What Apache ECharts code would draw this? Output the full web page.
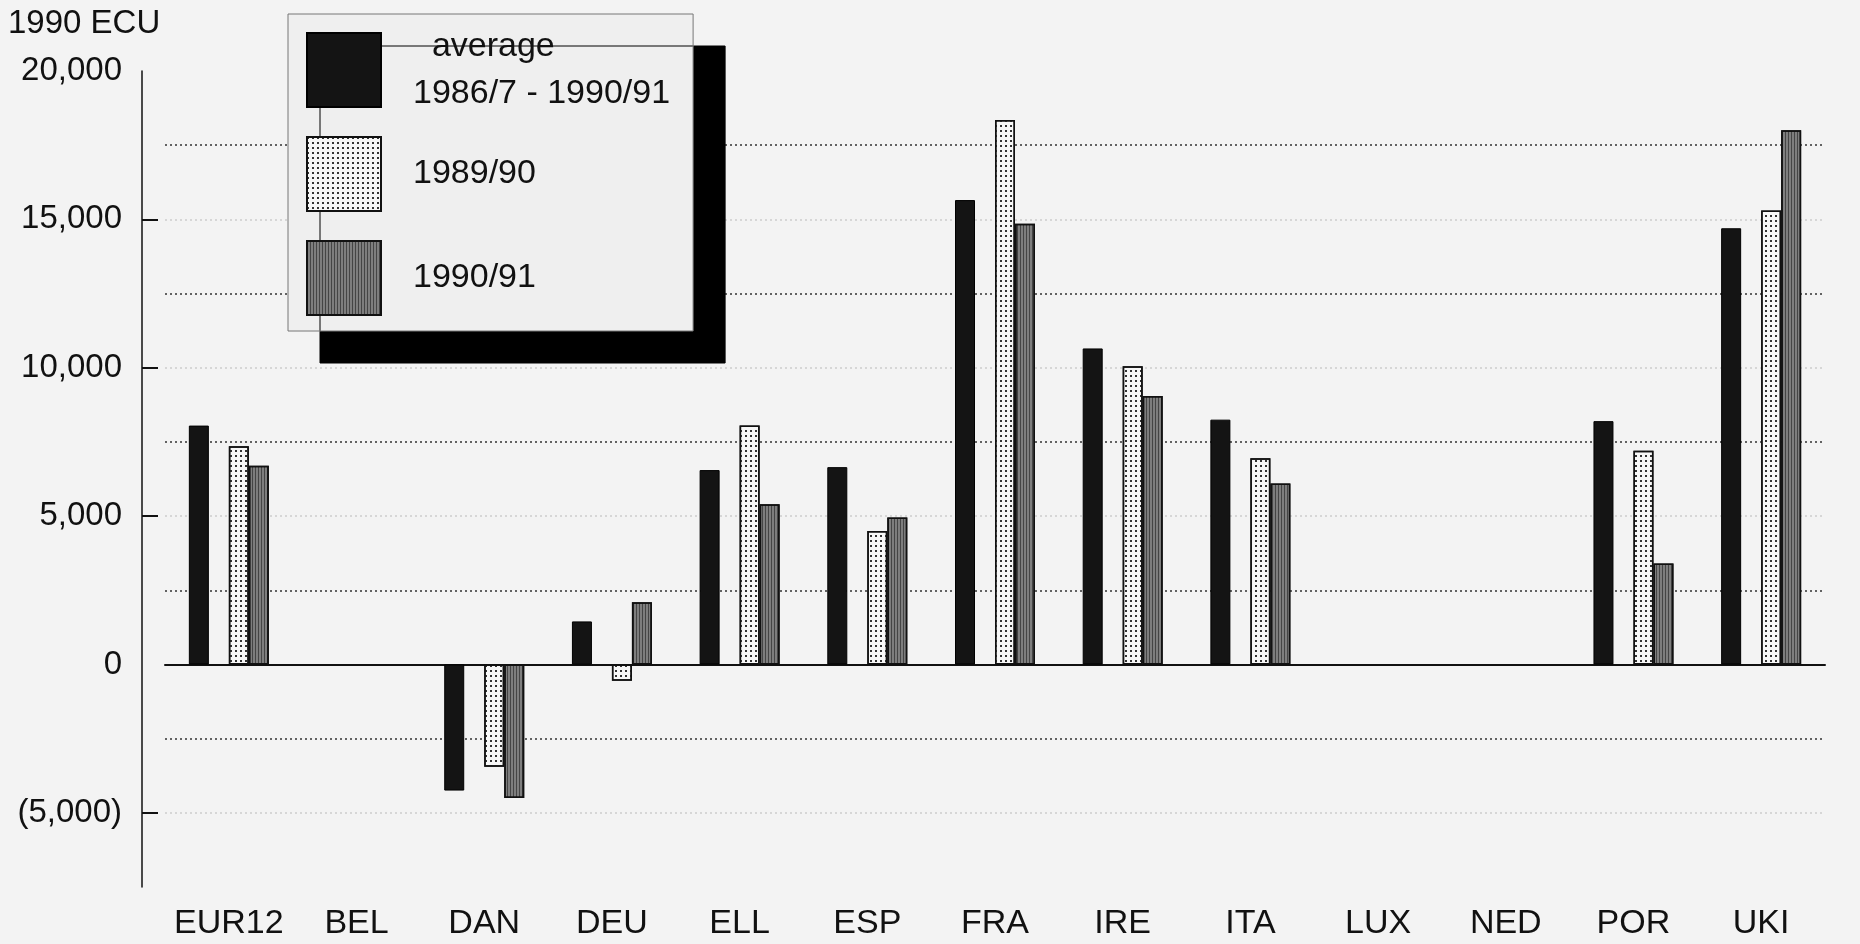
<!DOCTYPE html>
<html><head><meta charset="utf-8">
<script src="https://cdn.jsdelivr.net/npm/echarts@6/dist/echarts.min.js"></script>
<style>html,body{margin:0;padding:0;background:#f3f3f3}#c{width:1860px;height:944px}</style>
</head><body><div id="c"></div>
<script>
const categories = ['EUR12','BEL','DAN','DEU','ELL','ESP','FRA','IRE','ITA','LUX','NED','POR','UKI'];
const seriesNames = ['average 1986/7 - 1990/91', '1989/90', '1990/91'];
const legendLabels = ['  average\n1986/7 - 1990/91', '1989/90', '1990/91'];
const average = [8050, null, -4250, 1450, 6550, 6650, 15650, 10650, 8250, null, null, 8200, 14700];
const y1989_90 = [7350, null, -3450, -550, 8050, 4500, 18350, 10050, 6950, null, null, 7200, 15300];
const y1990_91 = [6700, null, -4500, 2100, 5400, 4950, 14850, 9050, 6100, null, null, 3400, 18000];
const yTickValues = [-5000, 5000, 10000, 15000];
const yAxisTitle = '1990 ECU';

const FONT = 'Liberation Sans';
const fmt = v => {
  if (Math.round(v) % 5000 !== 0) return '';
  const s = Math.abs(v).toLocaleString('en-US');
  return v < 0 ? '(' + s + ')' : s;
};
const legendFmt = name => legendLabels[seriesNames.indexOf(name)];
const legendData = seriesNames.map(n => {
  const lines = legendLabels[seriesNames.indexOf(n)].split('\n').length;
  return {name: n, textStyle: {lineHeight: 94 / lines}};
});

const chart = echarts.init(document.getElementById('c'), null, {renderer: 'canvas'});
chart.setOption({
  animation: false,
  backgroundColor: '#f3f3f3',
  textStyle: {fontFamily: FONT, color: '#111'},
  title: {
    text: yAxisTitle, left: 8, top: 7, padding: 0,
    textStyle: {fontFamily: FONT, fontSize: 33, fontWeight: 'normal', color: '#111'}
  },
  grid: {left: 165, right: 35, top: 71, bottom: 57, containLabel: false},
  legend: {
    data: legendData,
    formatter: legendFmt,
    orient: 'vertical',
    icon: 'rect',
    left: 288, top: 14,
    padding: [5, 23, 2, 18],
    itemWidth: 74, itemHeight: 74, itemGap: 2,
    backgroundColor: '#efefef',
    borderColor: '#777', borderWidth: 1,
    shadowColor: '#000', shadowBlur: 0, shadowOffsetX: 32, shadowOffsetY: 32,
    selectedMode: false,
    textStyle: {fontFamily: FONT, fontSize: 34, color: '#111', padding: [8, 0, 0, 27]}
  },
  xAxis: [{
    type: 'category', data: categories, position: 'bottom',
    axisLine: {show: false, onZero: false},
    axisTick: {show: false},
    axisLabel: {fontFamily: FONT, fontSize: 34, color: '#111', margin: 20, interval: 0}
  }, {
    type: 'category', data: categories, position: 'top',
    axisLine: {show: true, onZero: true, onZeroAxisIndex: 0, lineStyle: {color: '#111', width: 2}},
    axisTick: {show: false}, axisLabel: {show: false}
  }],
  yAxis: [{
    type: 'value', min: -7500, max: 20000, interval: 2500, position: 'left',
    offset: 23,
    axisLine: {show: true, lineStyle: {color: '#111', width: 1.5}},
    axisTick: {show: false},
    axisLabel: {formatter: fmt, fontFamily: FONT, fontSize: 33, color: '#111', margin: 20},
    splitLine: {show: true, showMinLine: false, showMaxLine: false,
      lineStyle: {color: ['#cdcdcd', '#333'], type: [2, 3], width: 1.5}}
  }, {
    type: 'value', min: -7500, max: 20000, interval: 2500, position: 'left',
    offset: 23,
    axisLine: {show: false},
    axisTick: {show: true, inside: true, length: 16, customValues: yTickValues, lineStyle: {color: '#111', width: 2}},
    axisLabel: {show: false},
    splitLine: {show: false}
  }],
  series: [{
    name: seriesNames[0], type: 'bar', data: average, barWidth: 20, barGap: 0,
    itemStyle: {color: '#141414', borderColor: '#000', borderWidth: 1}
  }, {
    name: 'spacer', type: 'bar', data: categories.map(() => null), barWidth: 20, barGap: 0, silent: true
  }, {
    name: seriesNames[1], type: 'bar', data: y1989_90, barWidth: 20, barGap: 0,
    itemStyle: {color: '#f7f7f7', borderColor: '#111', borderWidth: 1.5,
      decal: {symbol: 'rect', symbolSize: 1, color: '#333', dashArrayX: [1.5, 2.5], dashArrayY: [1.5, 2.5]}}
  }, {
    name: seriesNames[2], type: 'bar', data: y1990_91, barWidth: 20, barGap: 0,
    itemStyle: {color: '#7e7e7e', borderColor: '#111', borderWidth: 1.5,
      decal: {symbol: 'rect', symbolSize: 1, color: 'rgba(0,0,0,0.45)', dashArrayX: [1, 2], dashArrayY: [10, 0]}}
  }]
});
</script>
</body></html>
